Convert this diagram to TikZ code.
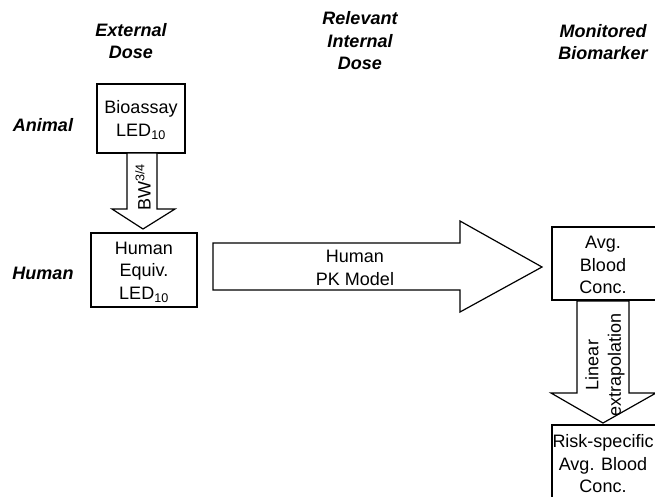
\documentclass[tikz,border=0pt]{standalone}
\usepackage{fontspec}
\setmainfont{Liberation Sans}
\begin{document}
\begin{tikzpicture}[x=1pt,y=-1pt,
  every node/.style={inner sep=0pt,outer sep=0pt},
  hdr/.style={font=\fontsize{18}{22.5}\selectfont\bfseries\itshape,align=center},
  rowlbl/.style={font=\fontsize{18}{22.5}\selectfont\bfseries\itshape},
  txt/.style={font=\fontsize{18}{22.5}\selectfont,align=center},
  boxline/.style={draw=black,line width=1.2pt},
  blk/.style={draw=black,line width=1.2pt,line join=miter,fill=white}]
\useasboundingbox (0,0) rectangle (655,496);
\clip (0,0) rectangle (655,496);
% headers
\node[hdr] (hext) at (131,41) {External\\Dose};
\node[hdr] (hint) at (360,41) {Relevant\\Internal\\Dose};
\node[hdr] (hmon) at (603,42) {Monitored\\Biomarker};
\node[rowlbl] (lanimal) at (43,125) {Animal};
\node[rowlbl] (lhuman) at (43,273) {Human};
% boxes
\draw[boxline] (97,84) rectangle (185,153);
\node[txt] (bio) at (141,120) {Bioassay\\LED\textsubscript{10}};
\draw[boxline] (91,233) rectangle (197,307);
\node[txt] (hed) at (144,272) {Human\\Equiv.\\LED\textsubscript{10}};
\draw[boxline] (552,227) rectangle (660,300);
\node[txt] (avg) at (603,265) {Avg.\\Blood\\Conc.};
\draw[boxline] (552,425) rectangle (660,510);
\node[txt] (risk) at (603,464) {Risk-specific\\Avg. Blood\\Conc.};
% BW arrow
\draw[blk] (127,153) -- (157,153) -- (157,209) -- (175,209) -- (143,229) -- (112,209) -- (127,209) -- cycle;
\node[txt,rotate=90] (bw) at (143,187) {BW\textsuperscript{3/4}};
% PK arrow
\draw[blk] (213,243) -- (460,243) -- (460,221) -- (542,267) -- (460,312) -- (460,290) -- (213,290) -- cycle;
\node[txt] (pk) at (355,268) {Human\\PK Model};
% Linear extrapolation arrow
\draw[blk] (577,301) -- (629,301) -- (629,393) -- (656,393) -- (603,423) -- (551,393) -- (577,393) -- cycle;
\node[txt,rotate=90] (lin) at (605,365) {Linear\\extrapolation};
\end{tikzpicture}
\end{document}
